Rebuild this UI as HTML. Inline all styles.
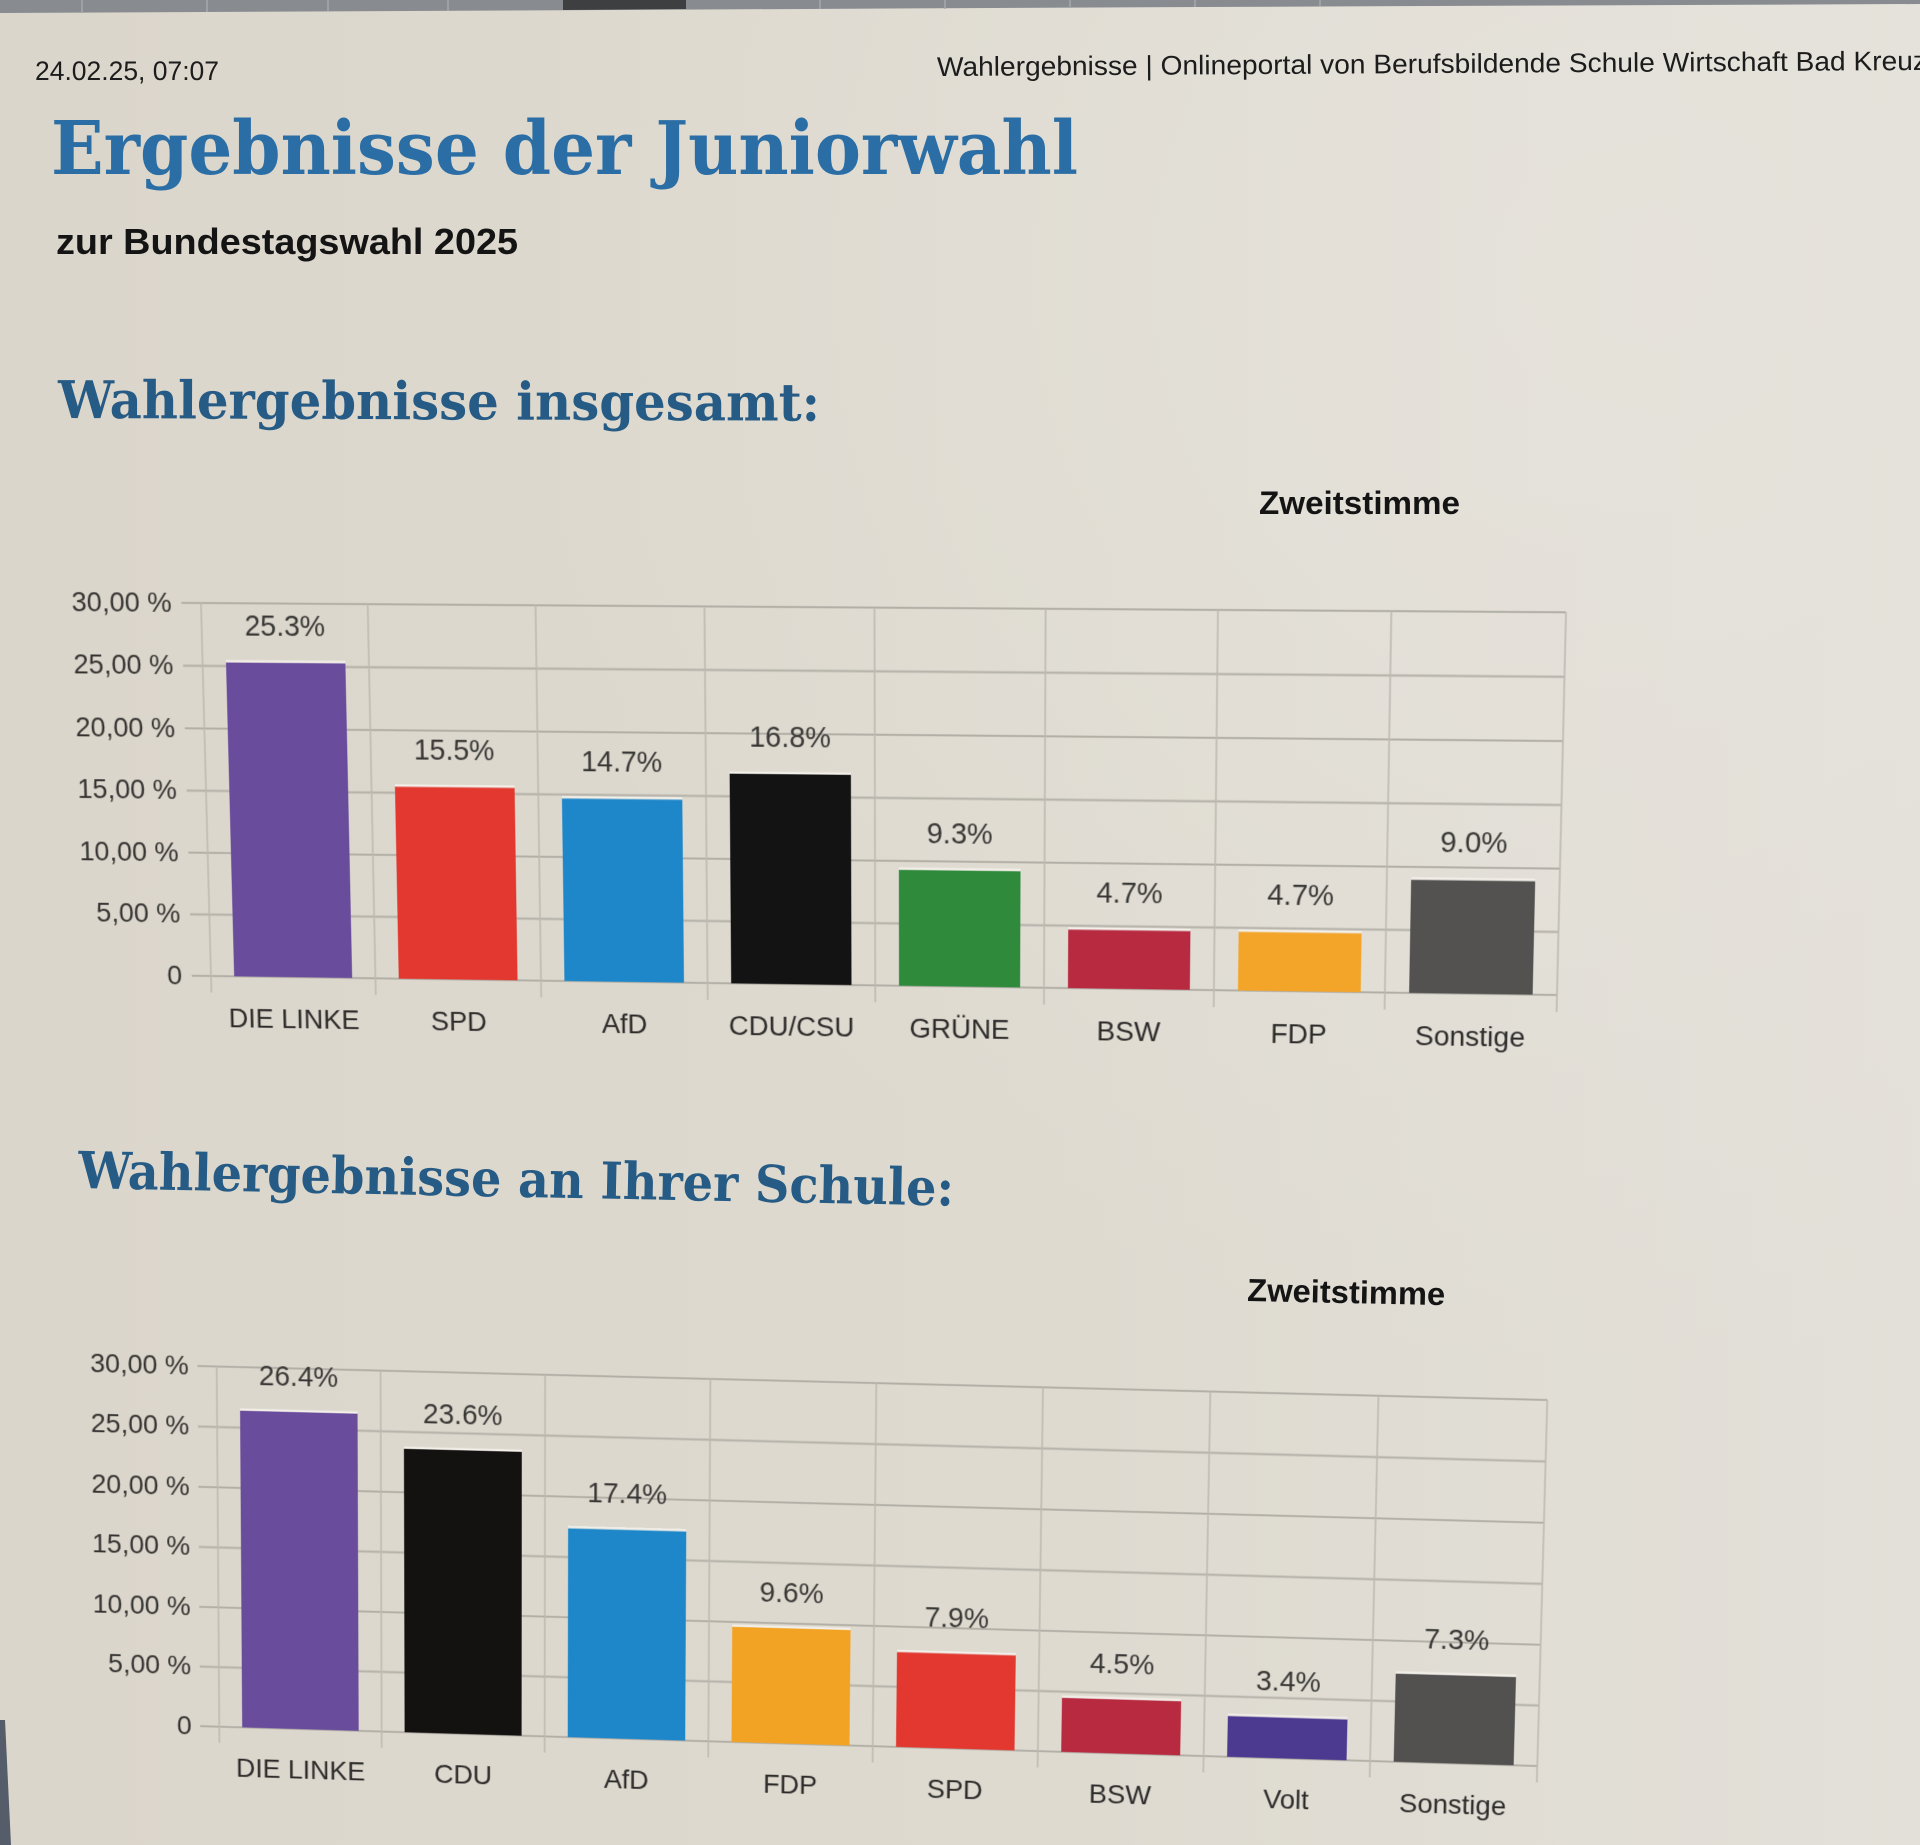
<!DOCTYPE html>
<html>
<head>
<meta charset="utf-8">
<style>
  html,body{margin:0;padding:0;width:1920px;height:1845px;overflow:hidden;}
  body{background:#dcd8ce;}
  #wrap{position:relative;width:1920px;height:1845px;overflow:hidden;}
  .page{position:absolute;left:0;top:0;}
  .chart{position:absolute;left:0;top:0;width:1360px;height:375px;transform-origin:0 0;}
  .chart svg{position:absolute;left:-200px;top:-100px;overflow:visible;}
  text{font-family:"Liberation Sans",Arial,sans-serif;}
  .slab{font-family:"DejaVu Serif","Liberation Serif",serif;font-weight:bold;}
  .ax{font-size:28px;fill:#343331;}
  .val{font-size:29px;fill:#383735;text-anchor:middle;}
  .cat{font-size:28px;fill:#2c2b2a;text-anchor:middle;}
  .hg{stroke:#b2afa7;stroke-width:2;}
  .vg{stroke:#bdbab2;stroke-width:1.6;}
</style>
</head>
<body>
<div id="wrap">
<svg class="page" width="1920" height="1845" viewBox="0 0 1920 1845">
  <defs>
    <linearGradient id="bg" x1="0" y1="0" x2="1" y2="0">
      <stop offset="0" stop-color="#dbd6cb"/>
      <stop offset="0.55" stop-color="#dedad0"/>
      <stop offset="1" stop-color="#e3e0d9"/>
    </linearGradient>
    <radialGradient id="hl" cx="0.85" cy="0.15" r="0.6">
      <stop offset="0" stop-color="#e7e4dd" stop-opacity="0.7"/>
      <stop offset="1" stop-color="#e7e4dd" stop-opacity="0"/>
    </radialGradient>
  </defs>
  <rect width="1920" height="1845" fill="url(#bg)"/>
  <rect width="1920" height="1845" fill="url(#hl)"/>
  <!-- top strip (other sheet) -->
  <polygon points="0,0 1920,0 1920,4 1200,7 0,13" fill="#888b90"/>
  <polygon points="563,0 686,0 686,9 563,10" fill="#3e3f41"/>
  <g stroke="#a6a9ad" stroke-width="1.5">
    <line x1="82" y1="0" x2="82" y2="12"/><line x1="207" y1="0" x2="207" y2="12"/>
    <line x1="328" y1="0" x2="328" y2="11"/><line x1="448" y1="0" x2="448" y2="11"/>
    <line x1="820" y1="0" x2="820" y2="9"/><line x1="945" y1="0" x2="945" y2="9"/>
    <line x1="1070" y1="0" x2="1070" y2="8"/><line x1="1195" y1="0" x2="1195" y2="7"/>
    <line x1="1320" y1="0" x2="1320" y2="6"/>
  </g>
  <!-- left bottom edge -->
  <polygon points="0,1720 5,1720 11,1845 0,1845" fill="#555c6a"/>

  <!-- header -->
  <text x="35" y="80" font-size="27" textLength="184" lengthAdjust="spacingAndGlyphs" fill="#1c1c1c">24.02.25, 07:07</text>
  <text x="937" y="76" font-size="27" textLength="990" lengthAdjust="spacingAndGlyphs" fill="#1c1c1c" transform="rotate(-0.35 937 76)">Wahlergebnisse | Onlineportal von Berufsbildende Schule Wirtschaft Bad Kreuz</text>

  <!-- titles -->
  <text class="slab" x="51" y="174" font-size="74" textLength="1027" lengthAdjust="spacingAndGlyphs" fill="#2b6ea5">Ergebnisse der Juniorwahl</text>
  <text x="56" y="254" font-size="36" font-weight="bold" textLength="462" lengthAdjust="spacingAndGlyphs" fill="#141414">zur Bundestagswahl 2025</text>
  <text class="slab" x="58" y="418" font-size="52" textLength="762" lengthAdjust="spacingAndGlyphs" fill="#265b85" transform="rotate(0.2 58 418)">Wahlergebnisse insgesamt:</text>
  <text class="slab" x="78" y="1188" font-size="51" textLength="876" lengthAdjust="spacingAndGlyphs" fill="#265b85" transform="rotate(1.15 78 1188)">Wahlergebnisse an Ihrer Schule:</text>

  <text x="1259" y="514" font-size="32" font-weight="bold" textLength="201" lengthAdjust="spacingAndGlyphs" fill="#141414">Zweitstimme</text>
  <text x="1247" y="1301" font-size="32" font-weight="bold" textLength="198" lengthAdjust="spacingAndGlyphs" fill="#141414" transform="rotate(1.2 1247 1301)">Zweitstimme</text>
</svg>

<!-- Chart 1 -->
<div class="chart" style="transform:matrix3d(0.973694,-0.0048846,0,-0.0000191456,0.0345115,1.030952,0,0.0000371787,0,0,1,0,201,603,0,1);">
<svg width="1760" height="600" viewBox="-200 -100 1760 600">
  <g class="hg">
    <line x1="-20" y1="0" x2="1360" y2="0"/>
    <line x1="-20" y1="62.5" x2="1360" y2="62.5"/>
    <line x1="-20" y1="125" x2="1360" y2="125"/>
    <line x1="-20" y1="187.5" x2="1360" y2="187.5"/>
    <line x1="-20" y1="250" x2="1360" y2="250"/>
    <line x1="-20" y1="312.5" x2="1360" y2="312.5"/>
    <line x1="-20" y1="375" x2="1360" y2="375"/>
  </g>
  <g class="vg">
    <line x1="0" y1="0" x2="0" y2="392"/><line x1="170" y1="0" x2="170" y2="392"/>
    <line x1="340" y1="0" x2="340" y2="392"/><line x1="510" y1="0" x2="510" y2="392"/>
    <line x1="680" y1="0" x2="680" y2="392"/><line x1="850" y1="0" x2="850" y2="392"/>
    <line x1="1020" y1="0" x2="1020" y2="392"/><line x1="1190" y1="0" x2="1190" y2="392"/>
    <line x1="1360" y1="0" x2="1360" y2="392"/>
  </g>
  <g text-anchor="end" class="ax">
    <text x="-30" y="9">30,00 %</text>
    <text x="-30" y="71.5">25,00 %</text>
    <text x="-30" y="134">20,00 %</text>
    <text x="-30" y="196.5">15,00 %</text>
    <text x="-30" y="259">10,00 %</text>
    <text x="-30" y="321.5">5,00 %</text>
    <text x="-30" y="384">0</text>
  </g>
  <g>
    <rect x="24" y="58.75" width="122" height="316.25" fill="#6a4c9c"/>
    <rect x="194" y="181.25" width="122" height="193.75" fill="#e2382f"/>
    <rect x="364" y="191.25" width="122" height="183.75" fill="#1e87c9"/>
    <rect x="534" y="165" width="122" height="210" fill="#141313"/>
    <rect x="704" y="258.75" width="122" height="116.25" fill="#2f8a3b"/>
    <rect x="874" y="316.25" width="122" height="58.75" fill="#b72a40"/>
    <rect x="1044" y="316.25" width="122" height="58.75" fill="#f3a52a"/>
    <rect x="1214" y="262.5" width="122" height="112.5" fill="#535250"/>
  </g>
  <g fill="#f3f0ea">
    <rect x="24" y="56.5" width="122" height="2.25"/>
    <rect x="194" y="179" width="122" height="2.25"/>
    <rect x="364" y="189" width="122" height="2.25"/>
    <rect x="534" y="162.75" width="122" height="2.25"/>
    <rect x="704" y="256.5" width="122" height="2.25"/>
    <rect x="874" y="314" width="122" height="2.25"/>
    <rect x="1044" y="314" width="122" height="2.25"/>
    <rect x="1214" y="260.25" width="122" height="2.25"/>
  </g>
  <g class="val">
    <text x="85" y="31.75">25.3%</text>
    <text x="255" y="154.25">15.5%</text>
    <text x="425" y="164.25">14.7%</text>
    <text x="595" y="138">16.8%</text>
    <text x="765" y="231.75">9.3%</text>
    <text x="935" y="289.25">4.7%</text>
    <text x="1105" y="289.25">4.7%</text>
    <text x="1275" y="235.5">9.0%</text>
  </g>
  <g class="cat">
    <text x="85" y="427">DIE LINKE</text>
    <text x="255" y="427">SPD</text>
    <text x="425" y="427">AfD</text>
    <text x="595" y="427">CDU/CSU</text>
    <text x="765" y="427">GRÜNE</text>
    <text x="935" y="427">BSW</text>
    <text x="1105" y="427">FDP</text>
    <text x="1275" y="427">Sonstige</text>
  </g>
</svg>
</div>

<!-- Chart 2 -->
<div class="chart" style="transform:matrix3d(0.959200,0.0072765,0,-0.0000123969,0.0124491,1.003963,0,0.000025152,0,0,1,0,216.7,1366.5,0,1);">
<svg width="1760" height="600" viewBox="-200 -100 1760 600">
  <g class="hg">
    <line x1="-20" y1="0" x2="1360" y2="0"/>
    <line x1="-20" y1="62.5" x2="1360" y2="62.5"/>
    <line x1="-20" y1="125" x2="1360" y2="125"/>
    <line x1="-20" y1="187.5" x2="1360" y2="187.5"/>
    <line x1="-20" y1="250" x2="1360" y2="250"/>
    <line x1="-20" y1="312.5" x2="1360" y2="312.5"/>
    <line x1="-20" y1="375" x2="1360" y2="375"/>
  </g>
  <g class="vg">
    <line x1="0" y1="0" x2="0" y2="392"/><line x1="170" y1="0" x2="170" y2="392"/>
    <line x1="340" y1="0" x2="340" y2="392"/><line x1="510" y1="0" x2="510" y2="392"/>
    <line x1="680" y1="0" x2="680" y2="392"/><line x1="850" y1="0" x2="850" y2="392"/>
    <line x1="1020" y1="0" x2="1020" y2="392"/><line x1="1190" y1="0" x2="1190" y2="392"/>
    <line x1="1360" y1="0" x2="1360" y2="392"/>
  </g>
  <g text-anchor="end" class="ax">
    <text x="-29" y="9">30,00 %</text>
    <text x="-29" y="71.5">25,00 %</text>
    <text x="-29" y="134">20,00 %</text>
    <text x="-29" y="196.5">15,00 %</text>
    <text x="-29" y="259">10,00 %</text>
    <text x="-29" y="321.5">5,00 %</text>
    <text x="-29" y="384">0</text>
  </g>
  <g>
    <rect x="24" y="45" width="122" height="330" fill="#6a4c9c"/>
    <rect x="194" y="80" width="122" height="295" fill="#141111"/>
    <rect x="364" y="157.5" width="122" height="217.5" fill="#1e87c9"/>
    <rect x="534" y="255" width="122" height="120" fill="#f2a324"/>
    <rect x="704" y="276.25" width="122" height="98.75" fill="#e2382f"/>
    <rect x="874" y="318.75" width="122" height="56.25" fill="#b72a40"/>
    <rect x="1044" y="332.5" width="122" height="42.5" fill="#4b3a90"/>
    <rect x="1214" y="283.75" width="122" height="91.25" fill="#525150"/>
  </g>
  <g fill="#f3f0ea">
    <rect x="24" y="42.75" width="122" height="2.25"/>
    <rect x="194" y="77.75" width="122" height="2.25"/>
    <rect x="364" y="155.25" width="122" height="2.25"/>
    <rect x="534" y="252.75" width="122" height="2.25"/>
    <rect x="704" y="274" width="122" height="2.25"/>
    <rect x="874" y="316.5" width="122" height="2.25"/>
    <rect x="1044" y="330.25" width="122" height="2.25"/>
    <rect x="1214" y="281.5" width="122" height="2.25"/>
  </g>
  <g class="val">
    <text x="85" y="18">26.4%</text>
    <text x="255" y="53">23.6%</text>
    <text x="425" y="130.5">17.4%</text>
    <text x="595" y="228">9.6%</text>
    <text x="765" y="249.25">7.9%</text>
    <text x="935" y="291.75">4.5%</text>
    <text x="1105" y="305.5">3.4%</text>
    <text x="1275" y="256.75">7.3%</text>
  </g>
  <g class="cat">
    <text x="85" y="427">DIE LINKE</text>
    <text x="255" y="427">CDU</text>
    <text x="425" y="427">AfD</text>
    <text x="595" y="427">FDP</text>
    <text x="765" y="427">SPD</text>
    <text x="935" y="427">BSW</text>
    <text x="1105" y="427">Volt</text>
    <text x="1275" y="427">Sonstige</text>
  </g>
</svg>
</div>
</div>
</body>
</html>
